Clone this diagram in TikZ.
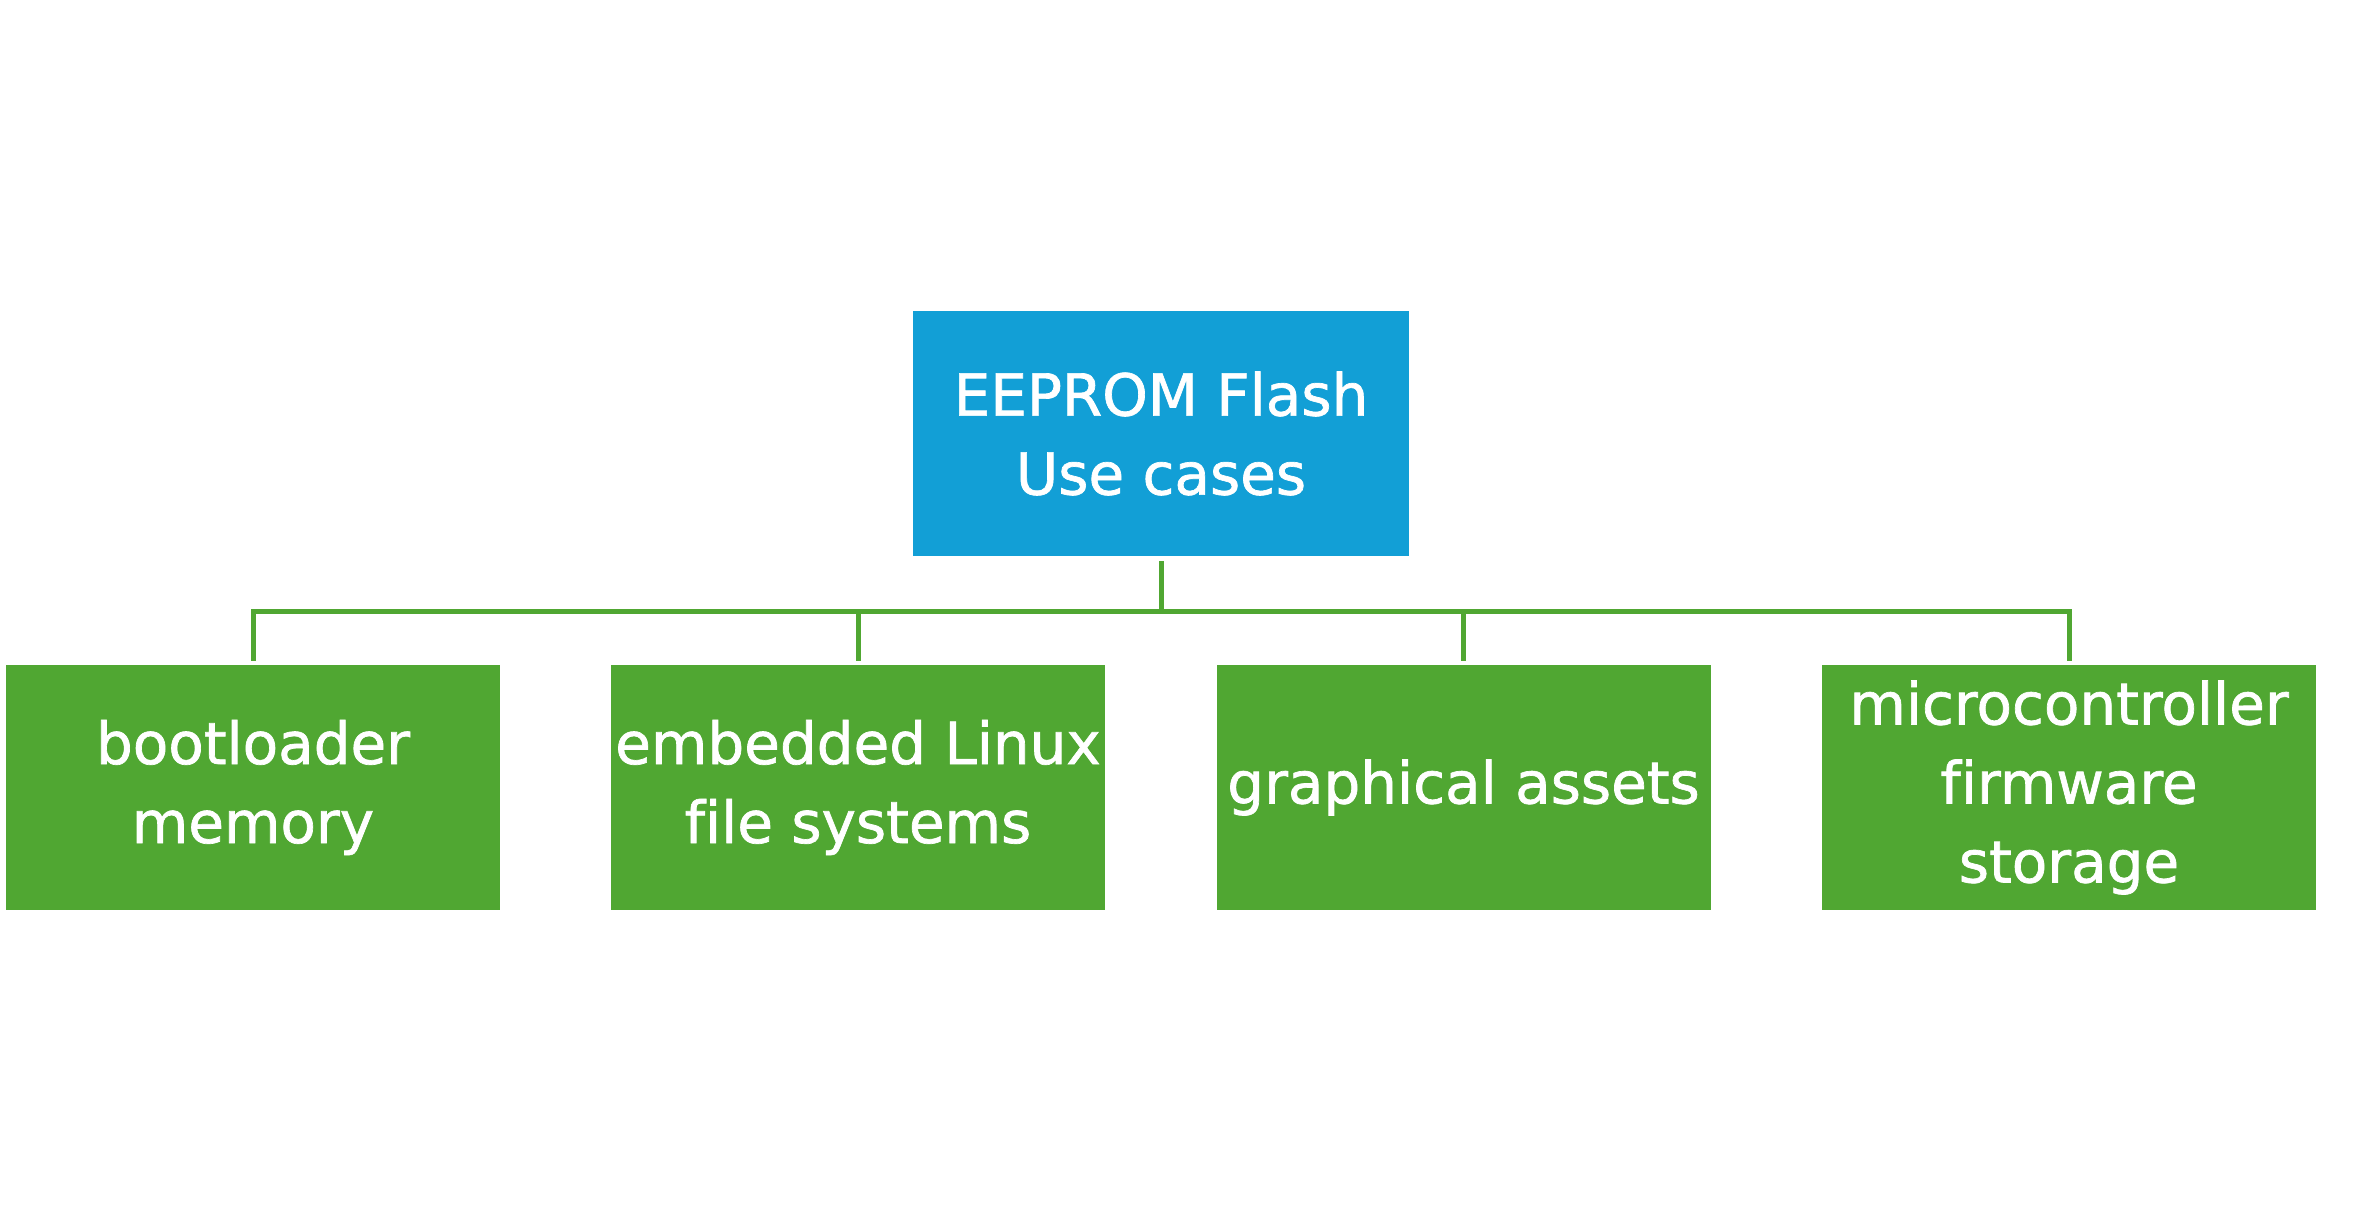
\documentclass[tikz,border=0pt]{standalone}
\usepackage{fontspec}
\setmainfont[Ligatures=NoCommon,FakeBold=1.2]{DejaVu Sans}
\definecolor{topblue}{HTML}{129FD6}
\definecolor{leafgreen}{HTML}{50A732}
\begin{document}
\begin{tikzpicture}[x=1pt,y=-1pt,
  boxbase/.style={inner sep=0pt, text=white, align=center, font=\fontsize{58}{79}\selectfont, minimum height=245pt},
  topbox/.style={boxbase, fill=topblue, minimum width=496pt},
  leafbox/.style={boxbase, fill=leafgreen, minimum width=494pt},
  conn/.style={draw=leafgreen, line width=5pt}]
\useasboundingbox[fill=white] (0,0) rectangle (2355,1221);
\node[topbox] (top) at (1161,433.5) {EEPROM Flash\\Use cases};
\node[leafbox] (b1) at (253,787.5) {bootloader\\memory};
\node[leafbox] (b2) at (858,787.5) {embedded Linux\\file systems};
\node[leafbox] (b3) at (1463.5,787.5) {graphical assets};
\node[leafbox] (b4) at (2069,787.5) {microcontroller\\firmware\\storage};
\coordinate (bus) at (1161,611);
\draw[conn, shorten <=5pt] (top.south) -- (bus);
\foreach \b in {b1,b2,b3,b4}
  \draw[conn, shorten >=4pt] (bus) -| (\b.north);
\end{tikzpicture}
\end{document}
